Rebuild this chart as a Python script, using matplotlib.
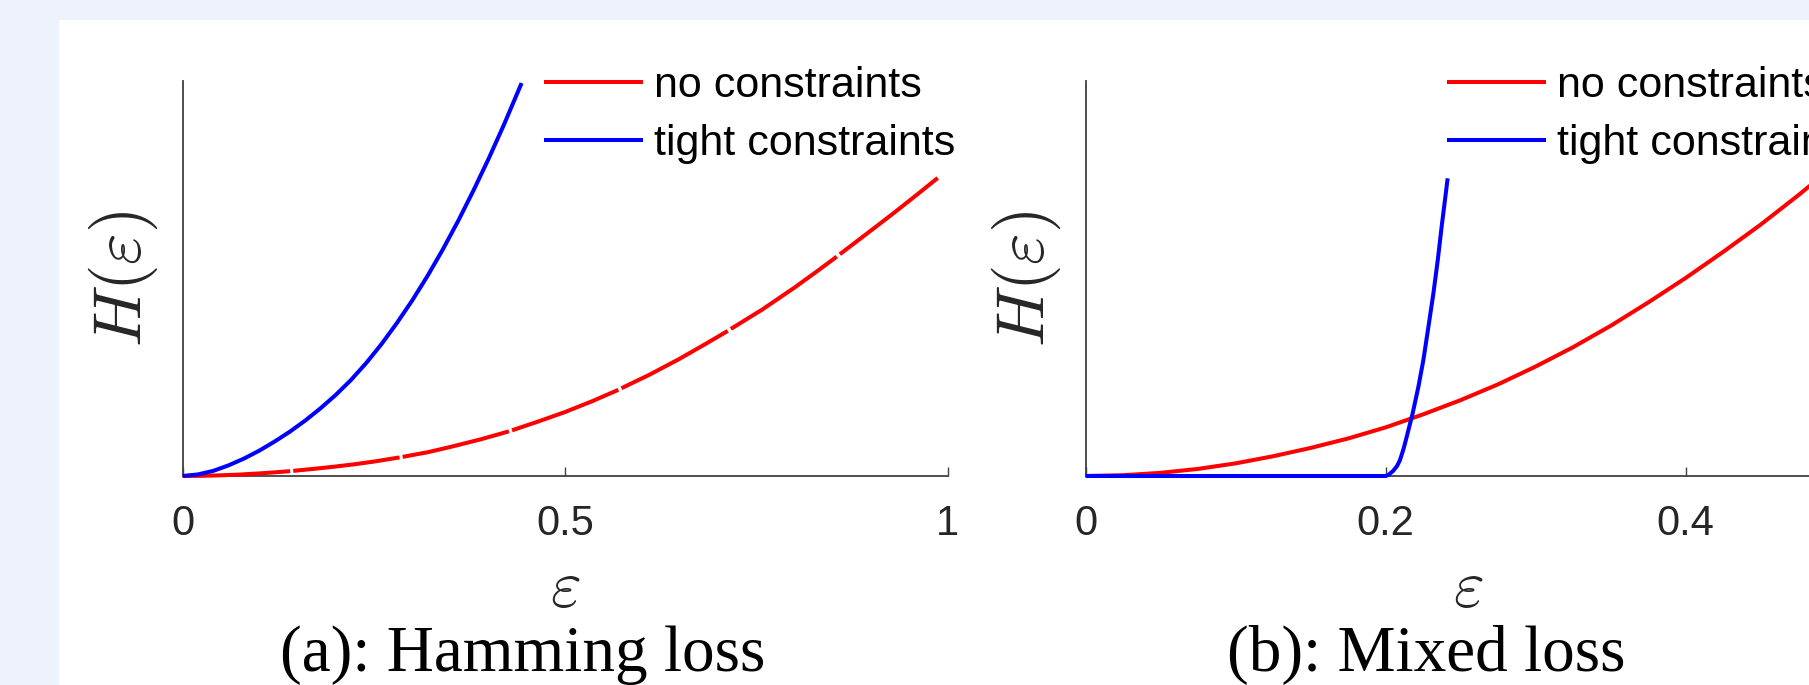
import matplotlib
matplotlib.use("Agg")
import matplotlib.pyplot as plt
from matplotlib.patches import Rectangle
import numpy as np

plt.rcParams['mathtext.fontset'] = 'cm'
plt.rcParams['font.family'] = ['Liberation Sans', 'DejaVu Sans']

# (a) Hamming loss -- red line is drawn in 7 pieces (NaN = small break)
eps_a_free = [0, 0.025, 0.05, 0.075, 0.1, 0.12, 0.1405, np.nan,
              0.1445, 0.17, 0.2, 0.225, 0.25, 0.2835, np.nan,
              0.2875, 0.32, 0.35, 0.39, 0.4265, np.nan,
              0.4305, 0.465, 0.5, 0.535, 0.5695, np.nan,
              0.5735, 0.61, 0.65, 0.6825, 0.7125, np.nan,
              0.7165, 0.7575, 0.8, 0.83, 0.855, np.nan,
              0.859, 0.895, 0.93, 0.96, 0.987]
H_a_free = [0, 0.0005, 0.0017, 0.0037, 0.0065, 0.0092, 0.0123, np.nan,
            0.013, 0.0178, 0.024, 0.0298, 0.0365, 0.047, np.nan,
            0.0484, 0.060, 0.0735, 0.093, 0.113, np.nan,
            0.1155, 0.138, 0.162, 0.189, 0.218, np.nan,
            0.222, 0.256, 0.297, 0.333, 0.367, np.nan,
            0.372, 0.421, 0.477, 0.519, 0.555, np.nan,
            0.561, 0.614, 0.666, 0.712, 0.754]
eps_a_tight = [0, 0.02, 0.04, 0.06, 0.08, 0.1, 0.12, 0.14, 0.16, 0.18, 0.2, 0.22,
               0.24, 0.26, 0.28, 0.3, 0.32, 0.34, 0.36, 0.38, 0.4, 0.42, 0.443]
H_a_tight = [0, 0.004, 0.013, 0.027, 0.044, 0.064, 0.087, 0.112, 0.140, 0.171, 0.205, 0.243,
             0.286, 0.334, 0.387, 0.444, 0.506, 0.573, 0.645, 0.722, 0.803, 0.889, 0.994]

# (b) Mixed loss
eps_b_free = [0, 0.025, 0.05, 0.075, 0.1, 0.125, 0.15, 0.175, 0.2, 0.225, 0.25,
              0.275, 0.3, 0.325, 0.35, 0.375, 0.4, 0.425, 0.45, 0.475, 0.5]
H_b_free = [0, 0.002, 0.008, 0.018, 0.032, 0.050, 0.071, 0.095, 0.123, 0.156, 0.192,
            0.232, 0.277, 0.326, 0.380, 0.439, 0.501, 0.567, 0.636, 0.710, 0.788]
eps_b_tight = [0, 0.2, 0.2017, 0.205, 0.2075, 0.2095, 0.212, 0.214, 0.218, 0.2218,
               0.2251, 0.2285, 0.2318, 0.2347, 0.2373, 0.2395, 0.2413]
H_b_tight = [0, 0, 0.0025, 0.013, 0.025, 0.040, 0.070, 0.099, 0.159, 0.226,
             0.293, 0.378, 0.462, 0.546, 0.631, 0.698, 0.753]

labels = ["no constraints", "tight constraints"]
xticks_a = [0, 0.5, 1]
xticks_b = [0, 0.2, 0.4]
captions = ["(a): Hamming loss", "(b): Mixed loss"]

W, Hpx = 1809, 685
fig = plt.figure(figsize=(W / 100, Hpx / 100), dpi=100)
fig.patch.set_facecolor('#EEF2FA')
fig.add_artist(Rectangle((59 / W, 0), 1, (Hpx - 20) / Hpx, transform=fig.transFigure,
                         facecolor='white', edgecolor='none', zorder=-1))

axc = '#404040'
txtc = '#262626'
bot = (Hpx - 476) / Hpx
hgt = 395.3 / Hpx
wid = 765 / W

ax1 = fig.add_axes([182.7 / W, bot, wid, hgt])
ax2 = fig.add_axes([1085.7 / W, bot, wid, hgt])

panels = [
    (ax1, eps_a_free, H_a_free, eps_a_tight, H_a_tight, 1.0, xticks_a),
    (ax2, eps_b_free, H_b_free, eps_b_tight, H_b_tight, 0.51, xticks_b),
]

for ax, xf, yf, xt, yt, xmax, ticks in panels:
    ax.set_facecolor('none')
    ax.plot(xf, yf, color='#FF0000', lw=2.9, label=labels[0],
            solid_capstyle='butt', clip_on=False, zorder=3)
    ax.plot(xt, yt, color='#0000FF', lw=2.9, label=labels[1],
            solid_capstyle='butt', clip_on=False, zorder=3)
    ax.set_xlim(0, xmax)
    ax.set_ylim(0, 1)
    ax.set_xticks(ticks)
    ax.set_xticklabels([('%g' % t) for t in ticks])
    ax.set_yticks([])
    for s in ['top', 'right']:
        ax.spines[s].set_visible(False)
    for s in ['left', 'bottom']:
        ax.spines[s].set_color(axc)
        ax.spines[s].set_linewidth(1.3)
    ax.tick_params(axis='x', direction='in', length=6.5, width=1.0, color=axc,
                   pad=20, labelsize=30, labelcolor=txtc)
    ax.set_xlabel(r'$\varepsilon$', fontsize=48, color=txtc)
    ax.xaxis.set_label_coords(0.5, -0.21)
    ax.set_ylabel(r'$H(\varepsilon)$', fontsize=49, color=txtc)
    ax.yaxis.set_label_coords(-0.03, 0.5)
    ax.legend(loc='upper left', bbox_to_anchor=(0.472, 1.037), frameon=False,
              fontsize=31, handlelength=2.3, handletextpad=0.26,
              labelspacing=0.42, borderpad=0, borderaxespad=0)

fig.text(522.5 / W, 14 / Hpx, captions[0], fontsize=47, family='Liberation Serif',
         ha='center', va='baseline', color='black')
fig.text(1426.5 / W, 14 / Hpx, captions[1], fontsize=47, family='Liberation Serif',
         ha='center', va='baseline', color='black')

fig.savefig('out.png', dpi=100, facecolor=fig.get_facecolor())
